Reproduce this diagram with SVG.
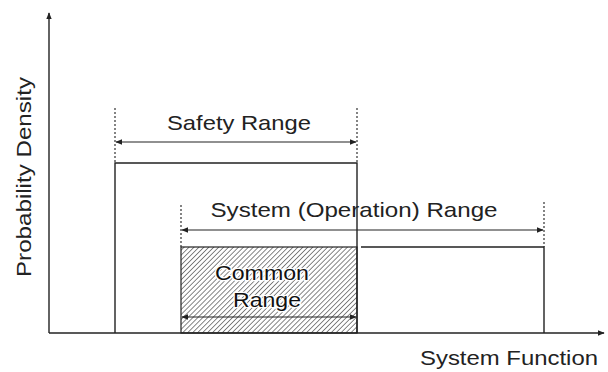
<svg xmlns="http://www.w3.org/2000/svg" width="608" height="372" viewBox="0 0 608 372">
<style>
.ln{stroke:#222;stroke-width:1.4;fill:none}
.dot{stroke:#333;stroke-width:1.2;stroke-dasharray:2 2;fill:none}
.arr{stroke:#222;stroke-width:1.2;fill:none;marker-start:url(#ah);marker-end:url(#ah)}
.t{font-family:"Liberation Sans",Arial,sans-serif;font-size:21px;fill:#222}
.h{fill:#111;stroke:#fff;stroke-width:2.5;paint-order:stroke}
</style>
<defs>
<marker id="ah" viewBox="0 0 10 10" refX="9" refY="5" markerWidth="7" markerHeight="7" orient="auto-start-reverse" markerUnits="userSpaceOnUse">
<path d="M0,1 L10,5 L0,9 Z" fill="#222"/>
</marker>
<marker id="axh" viewBox="0 0 10 10" refX="9" refY="5" markerWidth="7" markerHeight="7" orient="auto" markerUnits="userSpaceOnUse">
<path d="M0,1 L10,5 L0,9 Z" fill="#222"/>
</marker>
<pattern id="hatch" width="3.5" height="3.5" patternUnits="userSpaceOnUse" patternTransform="rotate(45)">
<line x1="0" y1="0" x2="0" y2="3.5" stroke="#222" stroke-width="1.1"/>
</pattern>
</defs>
<g id="common-range">
<rect x="181" y="247" width="176" height="86" fill="url(#hatch)" stroke="#222" stroke-width="1.2"/>
<path class="arr" d="M182,317 H356"/>
<text class="t h" x="262" y="280" text-anchor="middle" textLength="94" lengthAdjust="spacingAndGlyphs">Common</text>
<text class="t h" x="267" y="307" text-anchor="middle" textLength="68" lengthAdjust="spacingAndGlyphs">Range</text>
</g>
<g id="safety-range">
<path class="ln" d="M115,333 V163 H357 V333"/>
<path class="dot" d="M115,108 V163 M357,108 V163"/>
<path class="arr" d="M116,142 H356"/>
<text class="t" x="239" y="130" text-anchor="middle" textLength="144" lengthAdjust="spacingAndGlyphs">Safety Range</text>
</g>
<g id="system-range">
<path class="ln" d="M361,247 H544 V333"/>
<path class="dot" d="M181,205 V247 M544,202 V247"/>
<path class="arr" d="M182,230 H543"/>
<text class="t" x="354" y="217" text-anchor="middle" textLength="287" lengthAdjust="spacingAndGlyphs">System (Operation) Range</text>
</g>
<g id="axes">
<path class="ln" d="M49,333 V13" marker-end="url(#axh)"/>
<path class="ln" d="M49,333 H604" marker-end="url(#axh)"/>
<text class="t" x="509" y="365" text-anchor="middle" textLength="178" lengthAdjust="spacingAndGlyphs">System Function</text>
<text class="t" transform="translate(31,177) rotate(-90)" x="0" y="0" text-anchor="middle" textLength="200" lengthAdjust="spacingAndGlyphs">Probability Density</text>
</g>
</svg>
